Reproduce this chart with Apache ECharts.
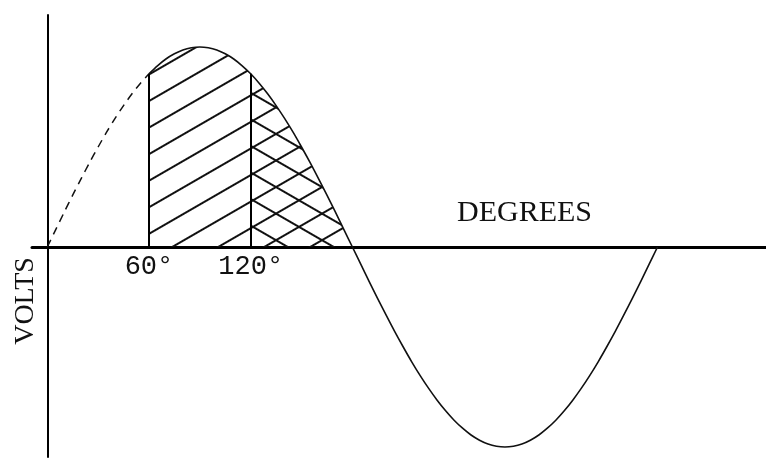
<!DOCTYPE html>
<html>
<head>
<meta charset="utf-8">
<script src="https://cdn.jsdelivr.net/npm/echarts@6/dist/echarts.min.js"></script>
<style>
  html, body { margin: 0; padding: 0; background: #fff; }
  #chart { width: 766px; height: 460px; }
</style>
</head>
<body>
<div id="chart"></div>
<script>
// angle (degrees) and voltage, peak = 1
var degrees = [0, 5, 10, 15, 20, 25, 30, 35, 40, 45, 50, 55, 60, 65, 70, 75, 80, 85, 90,
               95, 100, 105, 110, 115, 120, 125, 130, 135, 140, 145, 150, 155, 160, 165, 170, 175, 180,
               185, 190, 195, 200, 205, 210, 215, 220, 225, 230, 235, 240, 245, 250, 255, 260, 265, 270,
               275, 280, 285, 290, 295, 300, 305, 310, 315, 320, 325, 330, 335, 340, 345, 350, 355, 360];
var volts = [0, 0.087, 0.174, 0.259, 0.342, 0.423, 0.5, 0.574, 0.643, 0.707, 0.766, 0.819, 0.866, 0.906, 0.94, 0.966, 0.985, 0.996, 1,
             0.996, 0.985, 0.966, 0.94, 0.906, 0.866, 0.819, 0.766, 0.707, 0.643, 0.574, 0.5, 0.423, 0.342, 0.259, 0.174, 0.087, 0,
             -0.087, -0.174, -0.259, -0.342, -0.423, -0.5, -0.574, -0.643, -0.707, -0.766, -0.819, -0.866, -0.906, -0.94, -0.966, -0.985, -0.996, -1,
             -0.996, -0.985, -0.966, -0.94, -0.906, -0.866, -0.819, -0.766, -0.707, -0.643, -0.574, -0.5, -0.423, -0.342, -0.259, -0.174, -0.087, 0];
var tickLabels = [60, 120];
var hatchStart = 60, crossStart = 120, hatchEnd = 180;
var xTitle = 'DEGREES';
var yTitle = 'VOLTS';

var myChart = echarts.init(document.getElementById('chart'));

// points of the curve between two angles
function seg(a, b) {
  var res = [];
  for (var i = 0; i < degrees.length; i++) {
    if (degrees[i] >= a && degrees[i] <= b) res.push([degrees[i], volts[i]]);
  }
  return res;
}
function voltAt(d) {
  return volts[degrees.indexOf(d)];
}

function hatch(rot) {
  return {
    symbol: 'rect',
    symbolSize: 1,
    color: '#111',
    backgroundColor: null,
    dashArrayX: [10, 0],
    dashArrayY: [2, 21],
    rotation: rot
  };
}

var option = {
  animation: false,
  backgroundColor: '#fff',
  grid: { left: 32, right: 0, top: 15, bottom: 3, outerBoundsMode: 'none' },
  xAxis: {
    type: 'value',
    min: -9,
    max: 424,
    position: 'bottom',
    offset: -210,          // lift the axis up to the zero line
    splitLine: { show: false },
    axisTick: { show: false },
    axisLine: { onZero: false, lineStyle: { color: '#000', width: 3 } },
    axisLabel: {
      customValues: tickLabels,
      margin: 6,
      color: '#111',
      fontFamily: 'Liberation Mono',
      fontSize: 27,
      formatter: '{value}°'
    }
  },
  yAxis: {
    type: 'value',
    min: -1.05,
    max: 1.16,
    splitLine: { show: false },
    axisTick: { show: false },
    axisLabel: { show: false },
    axisLine: { show: true, onZero: true, lineStyle: { color: '#000', width: 2 } }
  },
  graphic: [
    {
      type: 'text', left: 457, top: 198,
      style: { text: xTitle, fill: '#111', font: '30px "Liberation Serif"' }
    },
    {
      type: 'text', x: 26, y: 301, rotation: Math.PI / 2,
      style: { text: yTitle, fill: '#111', font: '28px "Liberation Serif"', align: 'center', verticalAlign: 'middle' }
    }
  ],
  series: [
    {
      type: 'line',
      data: seg(hatchStart, hatchEnd),
      smooth: 0.3,
      showSymbol: false,
      silent: true,
      lineStyle: { width: 0, opacity: 0 },
      areaStyle: { color: 'rgba(255,255,255,0)', opacity: 1 },
      itemStyle: { color: '#111', decal: hatch(-Math.PI / 6) },
      markLine: {
        silent: true,
        symbol: ['none', 'none'],
        label: { show: false },
        lineStyle: { type: 'solid', color: '#000', width: 2 },
        data: [
          [{ coord: [hatchStart, 0] }, { coord: [hatchStart, voltAt(hatchStart)] }],
          [{ coord: [crossStart, 0] }, { coord: [crossStart, voltAt(crossStart)] }]
        ]
      }
    },
    {
      type: 'line',
      data: seg(crossStart, hatchEnd),
      smooth: 0.3,
      showSymbol: false,
      silent: true,
      lineStyle: { width: 0, opacity: 0 },
      areaStyle: { color: 'rgba(255,255,255,0)', opacity: 1 },
      itemStyle: { color: '#111', decal: hatch(Math.PI / 6) }
    },
    {
      type: 'line',
      data: seg(0, hatchStart),
      smooth: 0.3,
      showSymbol: false,
      silent: true,
      lineStyle: { color: '#111', width: 1.5, type: [8, 6] }
    },
    {
      type: 'line',
      data: seg(hatchStart, 360),
      smooth: 0.3,
      showSymbol: false,
      silent: true,
      lineStyle: { color: '#111', width: 1.6 }
    }
  ]
};

myChart.setOption(option);
</script>
</body>
</html>
